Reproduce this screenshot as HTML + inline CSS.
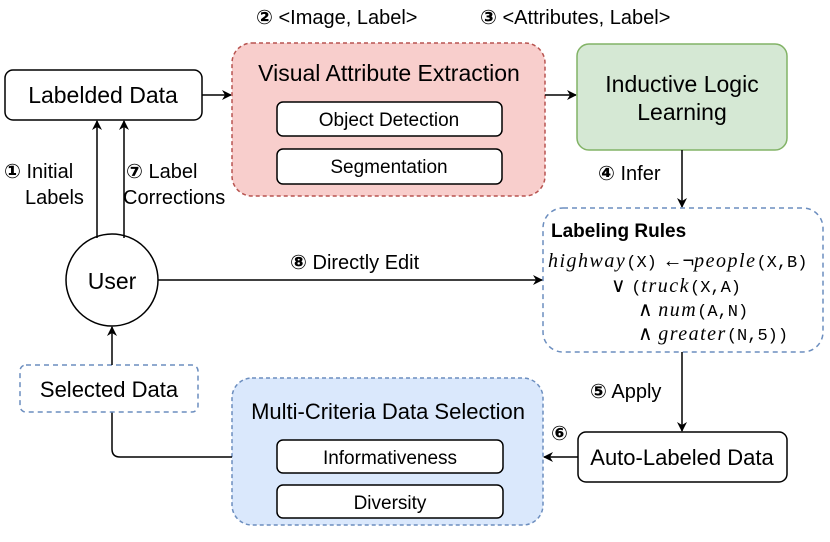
<!DOCTYPE html>
<html><head><meta charset="utf-8"><style>
html,body{margin:0;padding:0;background:#fff}
svg{display:block;font-family:"Liberation Sans",sans-serif}
.m{font-family:"Liberation Serif",serif;font-style:italic;letter-spacing:1.5px}
.c{font-family:"Liberation Mono",monospace;font-style:normal}
.n{font-family:"DejaVu Sans",sans-serif;font-weight:bold}
</style></head><body>
<svg width="830" height="542" viewBox="0 0 830 542">
<defs><marker id="a" markerWidth="10" markerHeight="10" refX="9" refY="5" orient="auto" markerUnits="userSpaceOnUse"><path d="M0,0 L10,5 L0,10 L3,5 Z" fill="#000"/></marker></defs>
<g font-size="20" fill="#000">
<text x="256" y="24"><tspan class="n">②</tspan> &lt;Image, Label&gt;</text>
<text x="480" y="24"><tspan class="n">③</tspan> &lt;Attributes, Label&gt;</text>
</g>
<rect x="5" y="70" width="197" height="50" rx="8" fill="#fff" stroke="#000" stroke-width="1.5"/>
<text x="103" y="103" font-size="23" text-anchor="middle">Labelded Data</text>
<line x1="202" y1="95" x2="231" y2="95" stroke="#000" stroke-width="1.5" marker-end="url(#a)"/>
<rect x="232" y="43" width="313" height="153" rx="20" fill="#f8cecc" stroke="#b85450" stroke-width="1.5" stroke-dasharray="4 3"/>
<text x="389" y="81" font-size="23" text-anchor="middle">Visual Attribute Extraction</text>
<rect x="277" y="102" width="225" height="34" rx="6" fill="#fff" stroke="#000" stroke-width="1.5"/>
<text x="389" y="126" font-size="19" text-anchor="middle">Object Detection</text>
<rect x="277" y="149" width="225" height="35" rx="6" fill="#fff" stroke="#000" stroke-width="1.5"/>
<text x="389" y="173" font-size="19" text-anchor="middle">Segmentation</text>
<line x1="545" y1="95" x2="576" y2="95" stroke="#000" stroke-width="1.5" marker-end="url(#a)"/>
<rect x="577" y="44" width="210" height="106" rx="12" fill="#d5e8d4" stroke="#82b366" stroke-width="1.5"/>
<text x="682" y="92" font-size="23" text-anchor="middle">Inductive Logic</text>
<text x="682" y="120" font-size="23" text-anchor="middle">Learning</text>
<line x1="682" y1="150" x2="682" y2="207" stroke="#000" stroke-width="1.5" marker-end="url(#a)"/>
<text x="598" y="180" font-size="20"><tspan class="n">④</tspan> Infer</text>
<rect x="543" y="208" width="280" height="144" rx="20" fill="#fff" stroke="#6c8ebf" stroke-width="1.5" stroke-dasharray="5 4"/>
<text x="551" y="237" font-size="19" font-weight="bold">Labeling Rules</text>
<text x="548" y="267" font-size="20"><tspan class="m">highway</tspan><tspan class="c" font-size="17">(X)</tspan> ←¬<tspan class="m">people</tspan><tspan class="c" font-size="17">(X,B)</tspan></text>
<text x="611" y="292" font-size="20">∨ <tspan class="c" font-size="17">(</tspan><tspan class="m">truck</tspan><tspan class="c" font-size="17">(X,A)</tspan></text>
<text x="638" y="316" font-size="20">∧ <tspan class="m">num</tspan><tspan class="c" font-size="17">(A,N)</tspan></text>
<text x="638" y="340" font-size="20">∧ <tspan class="m">greater</tspan><tspan class="c" font-size="17">(N,5))</tspan></text>
<line x1="682" y1="352" x2="682" y2="431" stroke="#000" stroke-width="1.5" marker-end="url(#a)"/>
<text x="590" y="398" font-size="20"><tspan class="n">⑤</tspan> Apply</text>
<rect x="578" y="432" width="209" height="50" rx="8" fill="#fff" stroke="#000" stroke-width="1.5"/>
<text x="682" y="465" font-size="22" text-anchor="middle">Auto-Labeled Data</text>
<line x1="578" y1="457" x2="544" y2="457" stroke="#000" stroke-width="1.5" marker-end="url(#a)"/>
<text x="551" y="440" font-size="20" class="n">⑥</text>
<rect x="232" y="378" width="311" height="147" rx="20" fill="#dae8fc" stroke="#6c8ebf" stroke-width="1.5" stroke-dasharray="4 3"/>
<text x="388" y="419" font-size="22" text-anchor="middle">Multi-Criteria Data Selection</text>
<rect x="277" y="440" width="226" height="33" rx="6" fill="#fff" stroke="#000" stroke-width="1.5"/>
<text x="390" y="464" font-size="19" text-anchor="middle">Informativeness</text>
<rect x="277" y="485" width="226" height="33" rx="6" fill="#fff" stroke="#000" stroke-width="1.5"/>
<text x="390" y="509" font-size="19" text-anchor="middle">Diversity</text>
<path d="M232,457 H120 Q112,457 112,449 V412" fill="none" stroke="#000" stroke-width="1.5"/>
<rect x="20" y="365" width="178" height="47" rx="6" fill="#fff" stroke="#6c8ebf" stroke-width="1.5" stroke-dasharray="5 4"/>
<text x="109" y="397" font-size="22" text-anchor="middle">Selected Data</text>
<line x1="112" y1="365" x2="112" y2="327" stroke="#000" stroke-width="1.5" marker-end="url(#a)"/>
<circle cx="112" cy="280" r="46" fill="#fff" stroke="#000" stroke-width="1.5"/>
<text x="112" y="289" font-size="23" text-anchor="middle">User</text>
<line x1="97" y1="238" x2="97" y2="121" stroke="#000" stroke-width="1.5" marker-end="url(#a)"/>
<line x1="124" y1="238" x2="124" y2="121" stroke="#000" stroke-width="1.5" marker-end="url(#a)"/>
<text x="4" y="178" font-size="20"><tspan class="n">①</tspan> Initial</text>
<text x="25" y="204" font-size="20">Labels</text>
<text x="126" y="178" font-size="20"><tspan class="n">⑦</tspan> Label</text>
<text x="123" y="204" font-size="20">Corrections</text>
<line x1="158" y1="280" x2="542" y2="280" stroke="#000" stroke-width="1.5" marker-end="url(#a)"/>
<text x="290" y="269" font-size="20"><tspan class="n">⑧</tspan> Directly Edit</text>
</svg>
</body></html>
